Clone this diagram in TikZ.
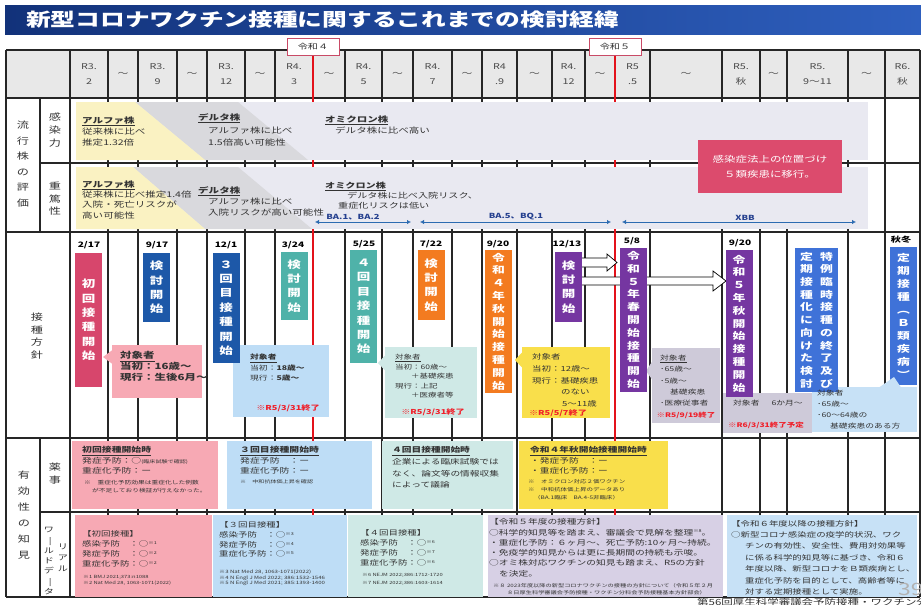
\documentclass[tikz,border=0pt]{standalone}
\usepackage{fontspec}
\setmainfont{Noto Sans CJK JP}[FakeStretch=1.35]
\usetikzlibrary{arrows.meta}
\definecolor{titA}{HTML}{12327A}
\definecolor{titB}{HTML}{2E5FBE}
\definecolor{hdr}{HTML}{E8E8E8}
\definecolor{gridc}{HTML}{262626}
\definecolor{redl}{HTML}{E3121B}
\definecolor{band}{HTML}{E9E9F1}
\definecolor{yelband}{HTML}{FAF2C2}
\definecolor{grayband}{HTML}{D9D9DD}
\definecolor{crim}{HTML}{D7466C}
\definecolor{dblue}{HTML}{1D58A8}
\definecolor{tealb}{HTML}{4FB2A9}
\definecolor{orng}{HTML}{F37B20}
\definecolor{purp}{HTML}{7536A1}
\definecolor{mblue}{HTML}{3F72D8}
\definecolor{pinkc}{HTML}{F7A9B4}
\definecolor{lblue}{HTML}{BEDDF6}
\definecolor{ltealc}{HTML}{CFE9E6}
\definecolor{yelc}{HTML}{F9DF4B}
\definecolor{lgray}{HTML}{CECAD9}
\definecolor{lav}{HTML}{D7D0E5}
\definecolor{lblueb}{HTML}{C7E1F6}
\definecolor{redbox}{HTML}{DC4B6D}
\definecolor{arrb}{HTML}{2C6BB1}
\definecolor{arrtxt}{HTML}{25408F}
\definecolor{txt}{HTML}{333333}
\definecolor{hdrtxt}{HTML}{4A4A4A}
\definecolor{notered}{HTML}{F0202A}
\definecolor{rwbord}{HTML}{C94A66}
\newcommand\fsz[2]{\fontsize{#1}{#2}\selectfont}
\newcommand\supnote[1]{\raisebox{2.2pt}{\fontsize{4}{4}\selectfont #1}}
\newcommand\vbar{\rotatebox[origin=c]{-90}{ー}}
\tikzset{
 gl/.style={draw=gridc, line width=1.1pt},
 redline/.style={draw=redl, line width=2.6pt},
 tx/.style={inner sep=0, anchor=north west, align=left, text=txt},
 vb/.style={inner sep=0, text=white, align=center, minimum width=27pt, font=\bfseries\fsz{10}{14.4}},
 vbl/.style={vb, font=\bfseries\fsz{9.5}{12.8}},
 cbox/.style={inner sep=0, anchor=north west},
 hd/.style={inner sep=0, align=center, text=hdrtxt, font=\fsz{8}{15}},
 lbl/.style={inner sep=0, align=center, text=txt},
 rednote/.style={inner sep=0, text=notered, font=\bfseries\fsz{6.8}{8}},
 datel/.style={inner sep=0, font=\bfseries\fsz{7.5}{9}},
 varr/.style={draw=arrb, line width=1pt, {Latex[length=4pt,width=4.5pt]}-{Latex[length=4pt,width=4.5pt]}},
 vartxt/.style={inner sep=0, anchor=south, text=arrtxt, font=\bfseries\fsz{7}{9}},
 blockarr/.style={fill=white, draw=black, line width=0.7pt},
 rwlab/.style={fill=white, draw=rwbord, line width=0.8pt, minimum width=52pt, minimum height=17pt, inner sep=0, font=\fsz{7.5}{9}, text=txt},
}
\begin{document}
\begin{tikzpicture}[x=1pt,y=-1pt]
\useasboundingbox (0,0) rectangle (921,605);
\fill[white] (0,0) rectangle (921,605);
% title
\shade[left color=titA, right color=titB] (5,5) rectangle (921,34);
\node[anchor=west, text=white, font=\bfseries\fsz{18.3}{20}, inner sep=0] (title) at (26,20) {新型コロナワクチン接種に関するこれまでの検討経緯};
% header fill
\fill[hdr] (6,50) rectangle (920,98);
% grid
\foreach \yy in {50,98,232,438,597} \draw[gl] (6,\yy) -- (920,\yy);
\foreach \yy in {163,512} \draw[gl] (40,\yy) -- (920,\yy);
\foreach \xx in {6,70,108,138,177,207,245,275,313,345,382,413,452,482,517,552,585,615,650,722,760,787,848,885,920} \draw[gl] (\xx,50) -- (\xx,597);
\draw[gl] (40,98) -- (40,232);
\draw[gl] (40,438) -- (40,597);
% reiwa labels and red lines
\node[rwlab] (rw4) at (313,47) {令和４};
\node[rwlab] (rw5) at (615,47) {令和５};
\draw[redline] (rw4.south) -- (313,597);
\draw[redline] (rw5.south) -- (615,597);
\node[rwlab] at (rw4) {令和４};
\node[rwlab] at (rw5) {令和５};
% variant bands
\fill[band] (76,102) rectangle (868,160);
\fill[grayband] (135,102) -- (238,102) -- (308,160) -- (205,160) -- cycle;
\fill[yelband] (76,102) -- (135,102) -- (205,160) -- (76,160) -- cycle;
\fill[band] (76,167) rectangle (868,229);
\fill[grayband] (133,167) -- (238,167) -- (312,229) -- (205,229) -- cycle;
\fill[yelband] (76,167) -- (133,167) -- (205,229) -- (76,229) -- cycle;
\node[tx, font=\fsz{7.8}{11}] (a1) at (82,116.5) {\underline{\textbf{アルファ株}}\\従来株に比べ\\推定1.32倍};
\node[tx, font=\fsz{7.8}{12.5}] (d1) at (198,113.5) {\underline{\textbf{デルタ株}}\\\hspace{10pt}アルファ株に比べ\\\hspace{10pt}1.5倍高い可能性};
\node[tx, font=\fsz{7.8}{11.5}] (o1) at (325,115.5) {\underline{\textbf{オミクロン株}}\\\hspace{10pt}デルタ株に比べ高い};
\node[tx, font=\fsz{7.8}{10.3}] (a2) at (82,180.5) {\underline{\textbf{アルファ株}}\\従来株に比べ推定1.4倍\\入院・死亡リスクが\\高い可能性};
\node[tx, font=\fsz{7.8}{11}] (d2) at (198,186.5) {\underline{\textbf{デルタ株}}\\\hspace{10pt}アルファ株に比べ\\\hspace{10pt}入院リスクが高い可能性};
\node[tx, font=\fsz{7.5}{10}] (o2) at (325,181.5) {\underline{\textbf{オミクロン株}}\\\hspace{22pt}デルタ株に比べ入院リスク、\\\hspace{13pt}重症化リスクは低い};
\node[fill=redbox, text=white, minimum width=144pt, minimum height=53pt, inner sep=0, align=center, font=\fsz{8.5}{15}] (rb) at (770,166.5) {感染症法上の位置づけ\\５類疾患に移行。};
\coordinate (b1s) at (315,222); \coordinate (b1e) at (411,222);
\coordinate (b2s) at (420,222); \coordinate (b2e) at (611,222);
\coordinate (b3s) at (622,222); \coordinate (b3e) at (856,222);
\draw[varr] (b1s) -- (b1e);
\draw[varr] (b2s) -- (b2e);
\draw[varr] (b3s) -- (b3e);
\node[vartxt] (t1) at (353,220.5) {BA.1、BA.2};
\node[vartxt] (t2) at (516,220.5) {BA.5、BQ.1};
\node[vartxt] (t3) at (745,220.5) {XBB};
% block arrows
\draw[blockarr] (580,258) -- (607,258) -- (607,254) -- (617,262.5) -- (607,271) -- (607,267) -- (580,267) -- cycle;
\draw[blockarr] (580,277) -- (713,277) -- (713,271) -- (726,281) -- (713,291) -- (713,285) -- (580,285) -- cycle;
% callout boxes
\node[cbox, fill=pinkc, minimum width=90pt, minimum height=53pt] (ca) at (112,345) {};
\fill[pinkc] (112.5,350) -- (103,357) -- (112.5,364) -- cycle;
\node[cbox, fill=lblue, minimum width=96pt, minimum height=72pt] (cb) at (233,345) {};
\node[cbox, fill=ltealc, minimum width=92pt, minimum height=71pt] (cc) at (385,347) {};
\fill[ltealc] (385.5,355) -- (378,363) -- (385.5,371) -- cycle;
\node[cbox, fill=yelc, minimum width=88pt, minimum height=71pt] (cd) at (522,347) {};
\fill[yelc] (522.5,352) -- (515,360) -- (522.5,368) -- cycle;
\node[cbox, fill=lgray, minimum width=68pt, minimum height=75pt] (ce) at (652,348) {};
\fill[lgray] (652.5,361) -- (646,371) -- (652.5,380) -- cycle;
\node[cbox, fill=lgray, minimum width=89pt, minimum height=40pt] (cf) at (723,393) {};
\node[cbox, fill=lblueb, minimum width=105pt, minimum height=45pt] (cg) at (812,387) {};
% vertical boxes
\node[vb, fill=crim, minimum height=134pt] (v1) at (88.5,320) {初\\回\\接\\種\\開\\始};
\node[vb, fill=dblue, minimum height=69pt] (v2) at (156.5,287.5) {検\\討\\開\\始};
\node[vb, fill=dblue, minimum height=110pt] (v3) at (226,308) {３\\回\\目\\接\\種\\開\\始};
\node[vb, fill=tealb, minimum height=68pt] (v4) at (294,286) {検\\討\\開\\始};
\node[vb, fill=tealb, minimum height=113pt] (v5) at (363.5,306.5) {４\\回\\目\\接\\種\\開\\始};
\node[vb, fill=orng, minimum height=70pt] (v6) at (431,285) {検\\討\\開\\始};
\node[vbl, fill=orng, minimum height=143pt] (v7) at (498.5,321.5) {令\\和\\４\\年\\秋\\開\\始\\接\\種\\開\\始};
\node[vb, fill=purp, minimum height=70pt] (v8) at (568.5,287) {検\\討\\開\\始};
\node[vbl, fill=purp, minimum height=144pt] (v9) at (633.5,320) {令\\和\\５\\年\\春\\開\\始\\接\\種\\開\\始};
\node[vbl, fill=purp, minimum height=147pt] (v10) at (739,323.5) {令\\和\\５\\年\\秋\\開\\始\\接\\種\\開\\始};
\node[vb, fill=mblue, minimum width=43pt, minimum height=144pt] (v11) at (816.5,320) {};
\node[inner sep=0, align=center, text=white, font=\bfseries\fsz{9.5}{12.7}] (v11a) at (826.5,320) {特\\例\\臨\\時\\接\\種\\の\\終\\了\\及\\び};
\node[inner sep=0, align=center, text=white, font=\bfseries\fsz{9.5}{12.7}] (v11b) at (806.5,320) {定\\期\\接\\種\\化\\に\\向\\け\\た\\検\\討};
\node[vb, fill=mblue, font=\bfseries\fsz{9.5}{13}, minimum height=138pt] (v12) at (903.5,316) {定\\期\\接\\種\\︵\\Ｂ\\類\\疾\\病\\︶};
\fill[lblueb] (879,387.5) -- (894,377) -- (901,387.5) -- cycle;
% dates
\node[datel] (dt1) at (89,245) {2/17};
\node[datel] (dt2) at (157,245) {9/17};
\node[datel] (dt3) at (226,245) {12/1};
\node[datel] (dt4) at (293,245) {3/24};
\node[datel] (dt5) at (364,244) {5/25};
\node[datel] (dt6) at (431,244) {7/22};
\node[datel] (dt7) at (498,244) {9/20};
\node[datel] (dt8) at (567,244) {12/13};
\node[datel] (dt9) at (632,241) {5/8};
\node[datel] (dt10) at (740,243) {9/20};
\node[datel] (dt11) at (901,240) {秋冬};
% callout texts
\node[tx, font=\bfseries\fsz{8.5}{11}] (cat) at (120,351) {\underline{対象者}\\当初：16歳～\\現行：生後6月～};
\node[tx, font=\fsz{6.5}{10.5}] (cbt) at (250,354) {\underline{\textbf{対象者}}\\当初：\textbf{18歳～}\\現行：\textbf{5歳～}};
\node[rednote] (cbr) at (288,408) {※R5/3/31終了};
\node[tx, font=\fsz{6.3}{9.6}] (cct) at (395,354) {\underline{対象者}\\当初：60歳～\\\hspace{16pt}＋基礎疾患\\現行：上記\\\hspace{16pt}＋医療者等};
\node[rednote] (ccr) at (433,412) {※R5/3/31終了};
\node[tx, font=\fsz{7}{11.7}] (cdt) at (532,353.5) {対象者\\当初：12歳～\\現行：基礎疾患\\\hspace{29pt}のない\\\hspace{30pt}5～11歳};
\node[rednote] (cdr) at (558,413) {※R5/5/7終了};
\node[tx, font=\fsz{6.5}{11.2}] (cet) at (660,355) {\underline{対象者}\\･65歳～\\･5歳～\\\hspace{10pt}基礎疾患\\･医療従事者};
\node[rednote, font=\bfseries\fsz{6.3}{8}] (cer) at (686,415) {※R5/9/19終了};
\node[tx, font=\fsz{6.5}{8}] (cft) at (733,400) {対象者\hspace{12pt}6か月～};
\node[rednote, font=\bfseries\fsz{6.3}{8}] (cfr) at (766,425) {※R6/3/31終了予定};
\node[tx, font=\fsz{6.5}{11}] (cgt) at (817,390) {対象者\\･65歳～\\･60～64歳の\\\hspace{13pt}基礎疾患のある方};
% bottom boxes: 薬事
\node[cbox, fill=pinkc, minimum width=146pt, minimum height=68pt] (y1) at (72,441) {};
\node[cbox, fill=lblue, minimum width=145pt, minimum height=68pt] (y2) at (227,441) {};
\node[cbox, fill=ltealc, minimum width=131pt, minimum height=68pt] (y3) at (382,441) {};
\node[cbox, fill=yelc, minimum width=149pt, minimum height=68pt] (y4) at (519,441) {};
\node[tx, font=\fsz{7.3}{10.3}] (y1t) at (82,446.5) {\underline{\textbf{初回接種開始時}}\\発症予防：○{\fsz{4.5}{5}(臨床試験で確認)}\\重症化予防：ー};
\node[tx, font=\fsz{5}{8}] (y1n) at (84,479.7) {※　重症化予防効果は重症化した例数\\\hspace{8pt}が不足しており検証が行えなかった。};
\node[tx, font=\fsz{7.3}{10.3}] (y2t) at (240,446.5) {\underline{\textbf{３回目接種開始時}}\\発症予防　：ー\\重症化予防：ー};
\node[tx, font=\fsz{4.5}{8}] (y2n) at (240,479.7) {※　中和抗体価上昇を確認};
\node[tx, font=\fsz{7.2}{11.7}] (y3t) at (392,446.5) {\underline{\textbf{４回目接種開始時}}\\企業による臨床試験では\\なく、論文等の情報収集\\によって議論};
\node[tx, font=\fsz{7.2}{10.3}] (y4t) at (530,446.5) {\underline{\textbf{令和４年秋開始接種開始時}}\\・発症予防　：ー\\・重症化予防：ー};
\node[tx, font=\fsz{4.8}{8}] (y4n) at (528,479.7) {※　オミクロン対応２価ワクチン\\※　中和抗体価上昇のデータあり\\\hspace{6pt}（BA.1臨床　BA.4-5非臨床）};
% bottom boxes: real world data
\node[cbox, fill=pinkc, minimum width=137pt, minimum height=82pt] (w1) at (75,515) {};
\node[cbox, fill=lblue, minimum width=134pt, minimum height=82pt] (w2) at (213,515) {};
\node[cbox, fill=ltealc, minimum width=135pt, minimum height=82pt] (w3) at (348,515) {};
\node[cbox, fill=lav, minimum width=235pt, minimum height=82pt] (w4) at (488,515) {};
\node[cbox, fill=lblueb, minimum width=190pt, minimum height=82pt] (w5) at (727,515) {};
\node[tx, font=\fsz{7}{10}] (w1t) at (82,530.5) {【初回接種】\\感染予防　：○\supnote{※1}\\発症予防　：○\supnote{※2}\\重症化予防：○\supnote{※2}};
\node[tx, font=\fsz{4.3}{6.5}] (w1n) at (83,575) {※1 BMJ 2021;373:n1088\\※2 Nat Med 28, 1063-1071(2022)};
\node[tx, font=\fsz{7}{9.7}] (w2t) at (219,521.7) {【３回目接種】\\感染予防　：○\supnote{※3}\\発症予防　：○\supnote{※4}\\重症化予防：○\supnote{※5}};
\node[tx, font=\fsz{4.5}{5.5}] (w2n) at (219,570) {※3 Nat Med 28, 1063-1071(2022)\\※4 N Engl J Med 2022; 386:1532-1546\\※5 N Engl J Med 2021; 385:1393-1400};
\node[tx, font=\fsz{7}{10}] (w3t) at (360,529.7) {【４回目接種】\\感染予防　：○\supnote{※6}\\発症予防　：○\supnote{※7}\\重症化予防：○\supnote{※6}};
\node[tx, font=\fsz{4.3}{8}] (w3n) at (362,573) {※6 NEJM 2022;386:1712-1720\\※7 NEJM 2022;386:1603-1614};
\node[tx, font=\fsz{7.2}{10.3}] (w4t) at (489,518.5) {【令和５年度の接種方針】\\○科学的知見等を踏まえ、審議会で見解を整理\supnote{※8}。\\・重症化予防：６ヶ月～、死亡予防:10ヶ月～持続。\\・免疫学的知見からは更に長期間の持続も示唆。\\○オミ株対応ワクチンの知見も踏まえ、R5の方針\\\hspace{10pt}を決定。};
\node[tx, font=\fsz{4.6}{7.5}] (w4n) at (493,583) {※８ 2023年度以降の新型コロナワクチンの接種の方針について（令和５年２月\\\hspace{14pt}８日厚生科学審議会予防接種・ワクチン分科会予防接種基本方針部会）};
\node[tx, font=\fsz{7}{11.4}] (w5t) at (731,520) {【令和６年度以降の接種方針】\\○新型コロナ感染症の疫学的状況、ワク\\\hspace{14pt}チンの有効性、安全性、費用対効果等\\\hspace{14pt}に係る科学的知見等に基づき、令和６\\\hspace{14pt}年度以降、新型コロナをＢ類疾病とし、\\\hspace{14pt}重症化予防を目的として、高齢者等に\\\hspace{14pt}対する定期接種として実施。};
% row labels
\node[lbl, font=\fsz{9}{15.5}] (lab1) at (23,164) {流\\行\\株\\の\\評\\価};
\node[lbl, font=\fsz{9}{13}] (lab2) at (55,130) {感\\染\\力};
\node[lbl, font=\fsz{9}{12.5}] (lab3) at (55,199) {重\\篤\\性};
\node[lbl, font=\fsz{9}{12.5}] (lab4) at (37,336) {接\\種\\方\\針};
\node[lbl, font=\fsz{9}{16}] (lab5) at (24,515) {有\\効\\性\\の\\知\\見};
\node[lbl, font=\fsz{9}{13}] (lab6) at (55,474) {薬\\事};
\node[lbl, font=\fsz{7.5}{10.3}] (lab7) at (49,561) {ワ\\\vbar\\ル\\ド\\デ\\\vbar\\タ};
\node[lbl, font=\fsz{7.5}{11}] (lab8) at (63,558) {リ\\ア\\ル};
% header labels
\node[hd] (h1) at (89,74) {R3.\\2};
\node[hd] (h2) at (123,74) {～};
\node[hd] (h3) at (157.5,74) {R3.\\9};
\node[hd] (h4) at (192,74) {～};
\node[hd] (h5) at (226,74) {R3.\\12};
\node[hd] (h6) at (260,74) {～};
\node[hd] (h7) at (294,74) {R4.\\3};
\node[hd] (h8) at (329,74) {～};
\node[hd] (h9) at (363.5,74) {R4.\\5};
\node[hd] (h10) at (397.5,74) {～};
\node[hd] (h11) at (432.5,74) {R4.\\7};
\node[hd] (h12) at (467,74) {～};
\node[hd] (h13) at (499.5,74) {R4\\.9};
\node[hd] (h14) at (534.5,74) {～};
\node[hd] (h15) at (568.5,74) {R4.\\12};
\node[hd] (h16) at (600,74) {～};
\node[hd] (h17) at (632.5,74) {R5\\.5};
\node[hd] (h18) at (686,74) {～};
\node[hd] (h19) at (741,74) {R5.\\秋};
\node[hd] (h20) at (773.5,74) {～};
\node[hd] (h21) at (817.5,74) {R5.\\9～11};
\node[hd] (h22) at (866.5,74) {～};
\node[hd] (h23) at (902.5,74) {R6.\\秋};
% page number and source
\node[anchor=west, inner sep=0, text=gray!60, font=\fsz{17}{18}] (pg) at (898,589) {39};
\node[anchor=west, inner sep=0, text=txt, font=\fsz{8.5}{9}] (foot) at (697,602) {第56回厚生科学審議会予防接種・ワクチン分科会};
\end{tikzpicture}
\end{document}
